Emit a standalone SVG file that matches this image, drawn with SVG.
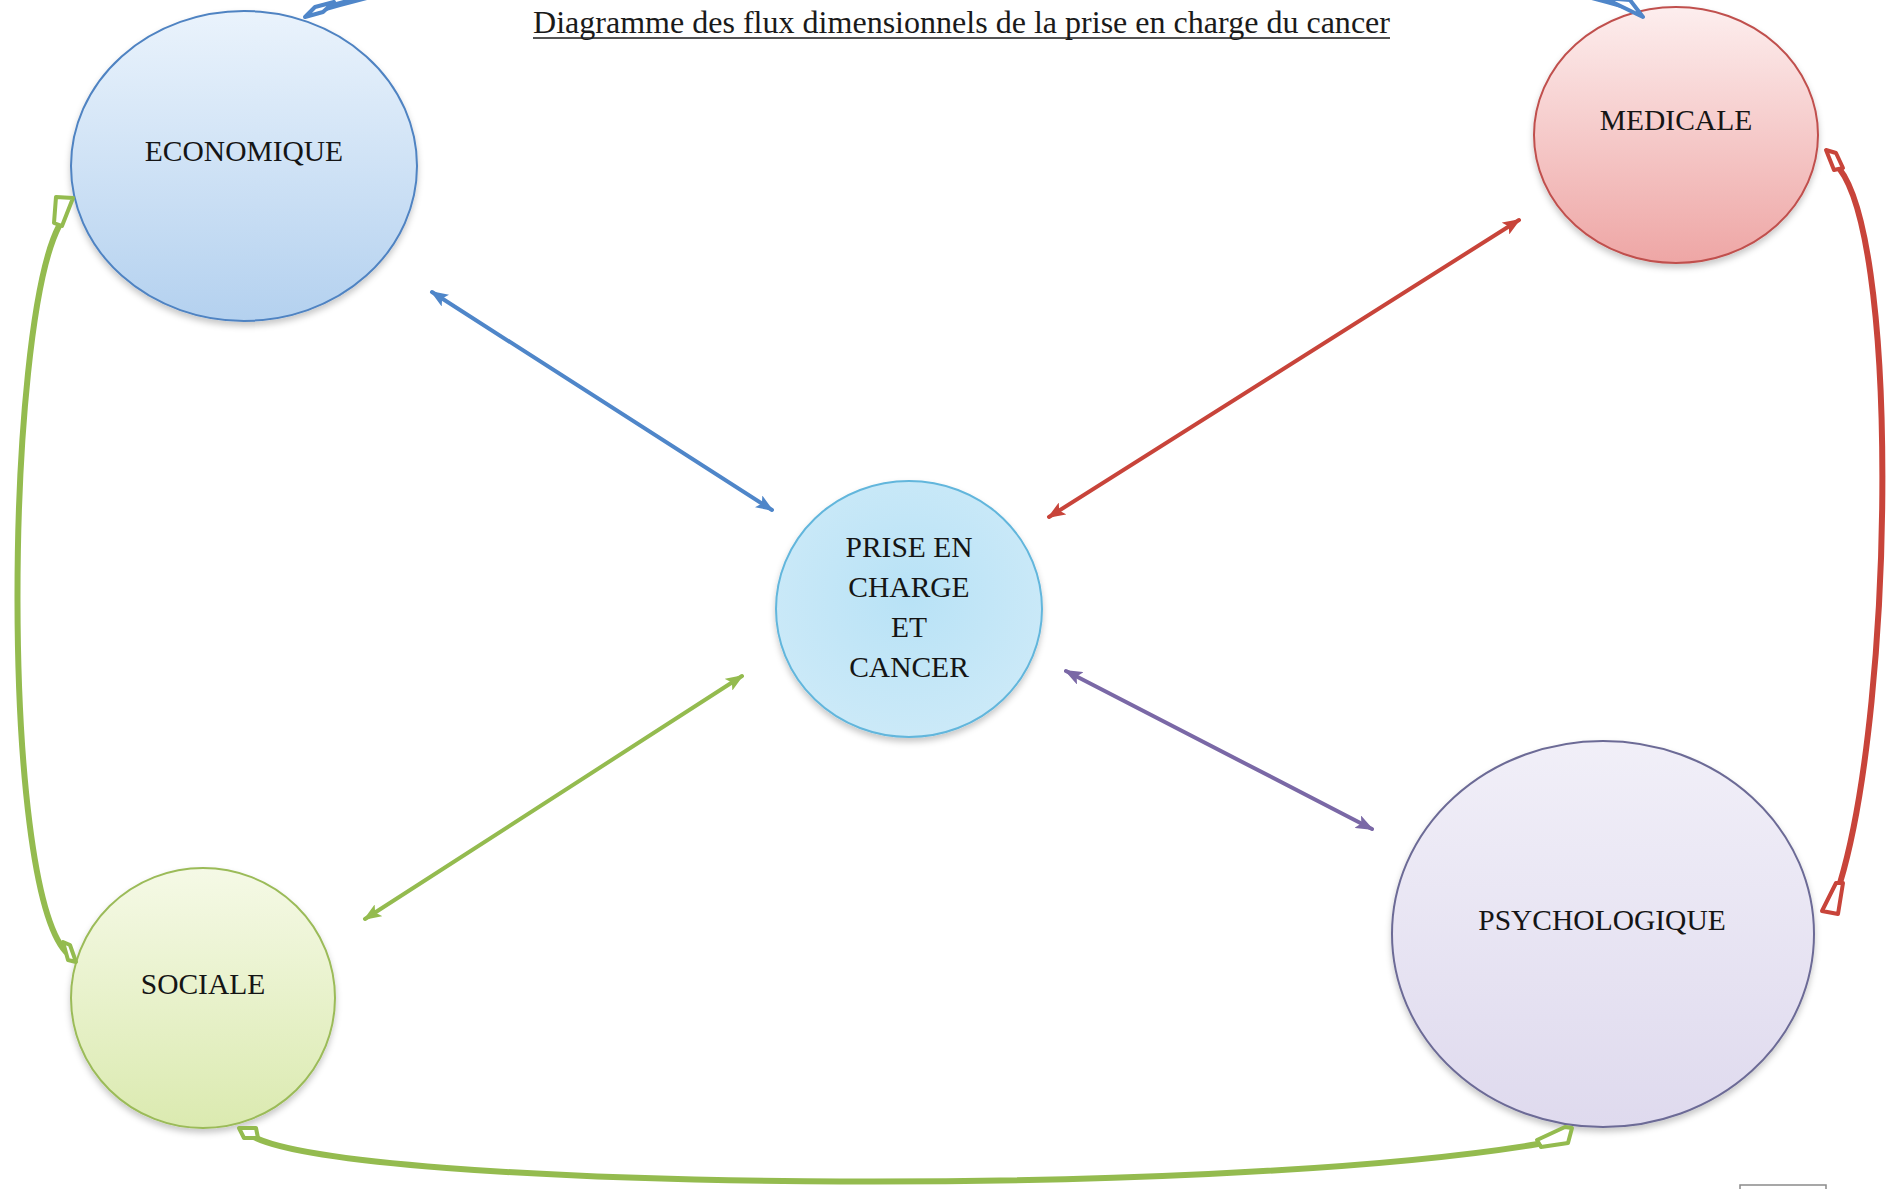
<svg xmlns="http://www.w3.org/2000/svg" width="1886" height="1189" viewBox="0 0 1886 1189">
<style>
  .lbl { font-family: "Liberation Serif", "Times New Roman", serif; font-size: 29.5px; fill: #151515; text-anchor: middle; }
  .title { font-family: "Liberation Serif", "Times New Roman", serif; font-size: 32px; fill: #1a1a1a; }
  .straight { fill: none; stroke-width: 4; stroke-linecap: round; }
  .curve { fill: none; stroke-width: 6; stroke-linecap: round; }
  .head { stroke-width: 4; stroke-linejoin: round; fill: #ffffff; }
</style>
<defs>
  <linearGradient id="gEco" x1="0" y1="0" x2="0" y2="1">
    <stop offset="0" stop-color="#eaf3fc"/>
    <stop offset="1" stop-color="#b4d1ef"/>
  </linearGradient>
  <linearGradient id="gMed" x1="0" y1="0" x2="0" y2="1">
    <stop offset="0" stop-color="#fdeeee"/>
    <stop offset="1" stop-color="#eea6a5"/>
  </linearGradient>
  <radialGradient id="gPri" cx="0.5" cy="0.45" r="0.6">
    <stop offset="0" stop-color="#b8e2f6"/>
    <stop offset="1" stop-color="#cdeaf8"/>
  </radialGradient>
  <linearGradient id="gSoc" x1="0" y1="0" x2="0" y2="1">
    <stop offset="0" stop-color="#f5f9e6"/>
    <stop offset="1" stop-color="#dbeab0"/>
  </linearGradient>
  <linearGradient id="gPsy" x1="0" y1="0" x2="0" y2="1">
    <stop offset="0" stop-color="#f1eff8"/>
    <stop offset="1" stop-color="#dfdaee"/>
  </linearGradient>
  <filter id="sh" x="-10%" y="-10%" width="120%" height="125%">
    <feDropShadow dx="0" dy="4" stdDeviation="3" flood-color="#000" flood-opacity="0.22"/>
  </filter>
  <marker id="mBlue" markerUnits="userSpaceOnUse" markerWidth="18" markerHeight="14" refX="16" refY="7" orient="auto-start-reverse">
    <path d="M0,0 L18,7 L0,14 L4,7 z" fill="#4f86c9"/>
  </marker>
  <marker id="mRed" markerUnits="userSpaceOnUse" markerWidth="18" markerHeight="14" refX="16" refY="7" orient="auto-start-reverse">
    <path d="M0,0 L18,7 L0,14 L4,7 z" fill="#c8443a"/>
  </marker>
  <marker id="mGreen" markerUnits="userSpaceOnUse" markerWidth="18" markerHeight="14" refX="16" refY="7" orient="auto-start-reverse">
    <path d="M0,0 L18,7 L0,14 L4,7 z" fill="#94bb4f"/>
  </marker>
  <marker id="mPurple" markerUnits="userSpaceOnUse" markerWidth="18" markerHeight="14" refX="16" refY="7" orient="auto-start-reverse">
    <path d="M0,0 L18,7 L0,14 L4,7 z" fill="#7a68a6"/>
  </marker>
</defs>
<rect width="1886" height="1189" fill="#ffffff"/>

<g id="title">
  <text class="title" x="533" y="33" textLength="857" lengthAdjust="spacingAndGlyphs">Diagramme des flux dimensionnels de la prise en charge du cancer</text>
  <line x1="533" y1="38" x2="1390" y2="38" stroke="#1a1a1a" stroke-width="1.6"/>
</g>

<g id="node-economique">
  <ellipse cx="244" cy="166" rx="173" ry="155" fill="url(#gEco)" stroke="#4f83c2" stroke-width="2" filter="url(#sh)"/>
  <text class="lbl" x="244" y="161">ECONOMIQUE</text>
</g>
<g id="node-medicale">
  <ellipse cx="1676" cy="135" rx="142" ry="128" fill="url(#gMed)" stroke="#c0504d" stroke-width="2" filter="url(#sh)"/>
  <text class="lbl" x="1676" y="130">MEDICALE</text>
</g>
<g id="node-prise">
  <ellipse cx="909" cy="609" rx="133" ry="128" fill="url(#gPri)" stroke="#62b6dc" stroke-width="2" filter="url(#sh)"/>
  <text class="lbl" x="909" y="557">PRISE EN</text>
  <text class="lbl" x="909" y="597">CHARGE</text>
  <text class="lbl" x="909" y="637">ET</text>
  <text class="lbl" x="909" y="677">CANCER</text>
</g>
<g id="node-sociale">
  <ellipse cx="203" cy="998" rx="132" ry="130" fill="url(#gSoc)" stroke="#9bbb59" stroke-width="2" filter="url(#sh)"/>
  <text class="lbl" x="203" y="994">SOCIALE</text>
</g>
<g id="node-psychologique">
  <ellipse cx="1603" cy="934" rx="211" ry="193" fill="url(#gPsy)" stroke="#6c6b96" stroke-width="2" filter="url(#sh)"/>
  <text class="lbl" x="1602" y="930">PSYCHOLOGIQUE</text>
</g>

<g id="connectors">
  <line class="straight" x1="432" y1="292" x2="772" y2="510" stroke="#4f86c9" marker-start="url(#mBlue)" marker-end="url(#mBlue)"/>
  <line class="straight" x1="1519" y1="220" x2="1049" y2="517" stroke="#c8443a" marker-start="url(#mRed)" marker-end="url(#mRed)"/>
  <line class="straight" x1="742" y1="676" x2="365" y2="919" stroke="#94bb4f" marker-start="url(#mGreen)" marker-end="url(#mGreen)"/>
  <line class="straight" x1="1066" y1="671" x2="1372" y2="829" stroke="#7a68a6" marker-start="url(#mPurple)" marker-end="url(#mPurple)"/>

  <path class="curve" d="M315,11 C700,-100 1250,-100 1625,6" stroke="#4f86c9"/>
  <polygon class="head" points="305,17 315,7 334,2 323,12" stroke="#4f86c9"/>
  <polygon class="head" points="1604,-2 1630,0 1643,17" stroke="#4f86c9"/>

  <path class="curve" d="M1834,163 C1900,220 1895,700 1840,883" stroke="#c8443a"/>
  <polygon class="head" points="1826,150 1836,153 1843,168 1834,170" stroke="#c8443a"/>
  <polygon class="head" points="1836,883 1843,883 1838,914 1822,911" stroke="#c8443a"/>

  <path class="curve" d="M66,952 C0,880 5,330 59,226" stroke="#94bb4f"/>
  <polygon class="head" points="63,942 70,945 76,962 68,960" stroke="#94bb4f"/>
  <polygon class="head" points="56,197 73,198 62,226 54,223" stroke="#94bb4f"/>

  <path class="curve" d="M252,1136 C350,1190 1200,1200 1538,1144" stroke="#94bb4f"/>
  <polygon class="head" points="239,1128 256,1128 258,1138 244,1138" stroke="#94bb4f"/>
  <polygon class="head" points="1537,1140 1565,1127 1572,1128 1568,1143 1541,1147" stroke="#94bb4f"/>
</g>

<rect x="1740" y="1185" width="86" height="12" fill="none" stroke="#8a8a8a" stroke-width="1.5"/>
</svg>
